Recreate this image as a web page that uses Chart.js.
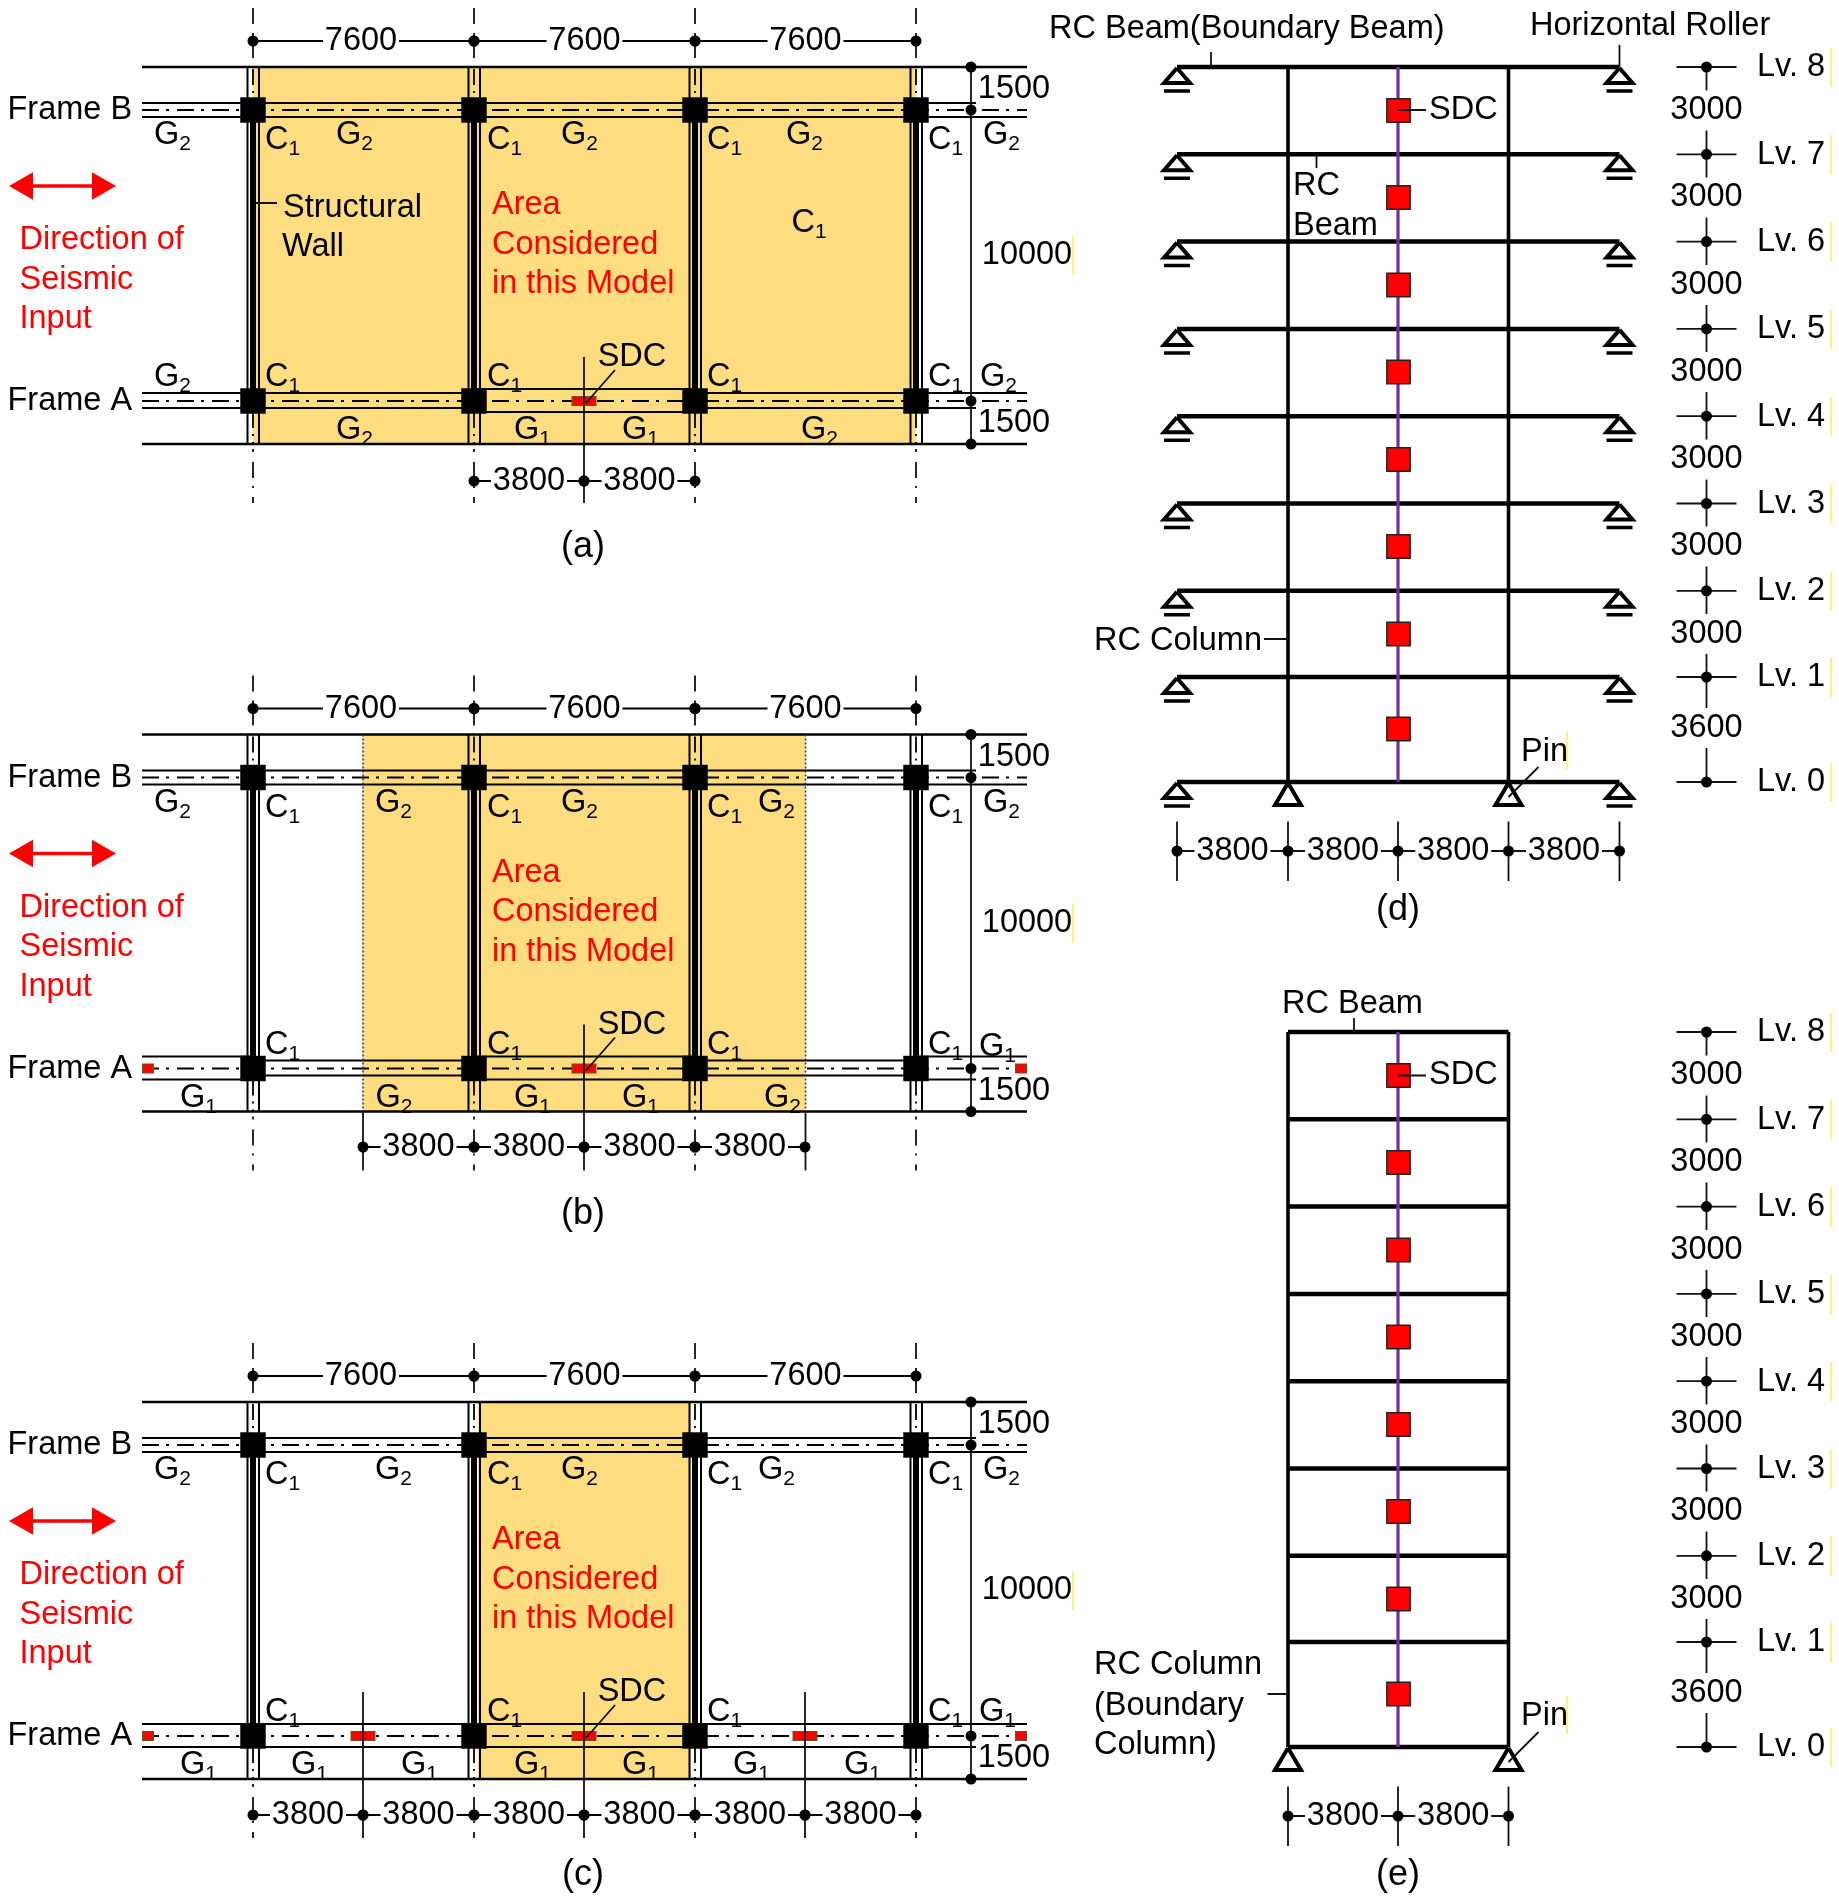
<!DOCTYPE html>
<html>
<head>
<meta charset="utf-8">
<title>Frame models</title>
<script src="https://cdn.jsdelivr.net/npm/chart.js@4/dist/chart.umd.js"></script>
<style>
  html, body { margin: 0; background: #fff; }
  canvas { display: block; }
</style>
</head>
<body>
<canvas id="drawing" width="1839" height="1902"></canvas>
<script>
// drawing data, all in page units of the one linear x/y scale
const planOffsets = [0, 667.5, 1335];
const planNames = ['(a)', '(b)', '(c)'];
const columnX = [253, 474, 695, 916];
const frameBY = [103, 110, 117];
const g2Y = [393, 408];
const g1Y = [389, 412];
const frameAY = 401;
const slabY = [67, 444];
const planX = [142, 1027];
const dimTopLabels = ['7600', '7600', '7600'];
const dimBottomX = [
  [474, 584, 695],
  [363, 474, 584, 695, 805],
  [253, 363, 474, 584, 695, 805, 916]
];
const dimBottomY = [481, 1147, 1815];
const areaX = [[253, 916], [363, 805.5], [478, 691]];
// 1 = G1 beam, 0 = G2 beam, per bay of Frame A
const frameASpanX = [142, 253, 474, 695, 916, 1027];
const frameAType = [
  [0, 0, 1, 0, 0],
  [1, 0, 1, 0, 1],
  [1, 1, 1, 1, 1]
];
const sdcWide = [[584], [584], [363, 584, 805]];
const sdcEnd = [[], [148, 1021], [148, 1021]];
const extraLines = [[584], [584], [363, 584, 805]];

const levelNames = ['Lv. 8', 'Lv. 7', 'Lv. 6', 'Lv. 5', 'Lv. 4', 'Lv. 3', 'Lv. 2', 'Lv. 1', 'Lv. 0'];
const storeyLabels = ['3000', '3000', '3000', '3000', '3000', '3000', '3000', '3600'];
const levelY = [67, 154.3, 241.6, 328.9, 416.2, 503.5, 590.8, 677, 782];
const storeyMidY = [110.5, 197.5, 285, 372, 459.5, 546.5, 634, 728];
const sdcMidY = [110.5, 197.5, 285, 372, 459.5, 546.5, 634, 729];
const elevOffsetE = 965;
const gridD = [1177, 1288, 1398, 1508.5, 1619.5];
const gridE = [1288, 1398, 1508.5];
const levelAxisX = 1706.5;

const BLACK = '#000';
const RED = '#ff0000';
const AREA = '#fedd80';
const PURPLE = '#7030a0';
const SDC_EDGE = '#7a4a20';
const TEXT_NUDGE = 2.5;

// line helpers: a "path" is a list of [x, y] pairs, gaps split the paths
function toPoints(paths) {
  const pts = [];
  paths.forEach(p => {
    p.forEach(c => pts.push({ x: c[0], y: c[1] }));
    pts.push({ x: NaN, y: NaN });
  });
  return pts;
}

function lineSet(paths, width, color, order, dash) {
  return {
    data: toPoints(paths),
    showLine: true,
    pointRadius: 0,
    borderWidth: width,
    borderColor: color,
    borderDash: dash || [],
    borderCapStyle: 'butt',
    borderJoinStyle: 'miter',
    spanGaps: false,
    tension: 0,
    order: order
  };
}

function pointSet(points, style, radius, color, order, extra) {
  return Object.assign({
    data: points.map(p => ({ x: p[0], y: p[1] })),
    showLine: false,
    pointStyle: style,
    pointRadius: radius,
    pointBackgroundColor: color,
    pointBorderWidth: 0,
    order: order
  }, extra || {});
}

const datasets = [];
const texts = [];

const thin = [];      // 2px black lines
const slabs = [];     // slab edges
const center = [];    // beam centre lines
const stubs = [];     // wall centre dashes
const dots = [];
const squares = [];
const wallCores = [];
const yellowBars = [];
const dotted = [];
const pale = [];

function note(str, x, y, color, align, size) {
  texts.push({ str, x, y, color: color || BLACK, align: align || 'left', size: size || 32.5 });
}
function subNote(base, sub, x, y) {
  texts.push({ str: base, sub, x, y, color: BLACK, align: 'left', size: 32.5 });
}

// dimension line with the number sitting in a gap
function dimension(x1, x2, y, label, shift) {
  const mid = (x1 + x2) / 2 + (shift || 0);
  thin.push([[x1, y], [mid - 38, y]], [[mid + 38, y], [x2, y]]);
  dots.push([x1, y], [x2, y]);
  note(label, mid, y - 2, BLACK, 'center');
}

planOffsets.forEach((dy, i) => {
  // highlighted tributary area
  datasets.push({
    data: [{ x: areaX[i][0], y: slabY[0] + dy }, { x: areaX[i][1], y: slabY[0] + dy }],
    showLine: true,
    pointRadius: 0,
    borderWidth: 0,
    backgroundColor: AREA,
    fill: { value: slabY[1] + dy },
    order: 60
  });
  if (i === 1) {
    areaX[i].forEach(x => dotted.push([[x, slabY[0] + dy], [x, slabY[1] + dy]]));
  }

  // slab edges and Frame B
  slabY.forEach(y => slabs.push([[planX[0], y + dy], [planX[1], y + dy]]));
  thin.push([[planX[0], frameBY[0] + dy], [976, frameBY[0] + dy]]);
  thin.push([[planX[0], frameBY[2] + dy], [planX[1], frameBY[2] + dy]]);
  center.push([[planX[0], frameBY[1] + dy], [planX[1], frameBY[1] + dy]]);
  center.push([[planX[0], frameAY + dy], [planX[1], frameAY + dy]]);

  // Frame A bays, G1 or G2
  frameAType[i].forEach((t, k) => {
    const ys = t ? g1Y : g2Y;
    const x1 = frameASpanX[k];
    const x2 = frameASpanX[k + 1];
    thin.push([[x1, ys[0] + dy], [x2, ys[0] + dy]]);
    thin.push([[x1, ys[1] + dy], [k === 4 ? 976 : x2, ys[1] + dy]]);
  });

  // walls and column grid lines
  columnX.forEach(x => {
    thin.push([[x - 5.5, slabY[0] + dy], [x - 5.5, slabY[1] + dy]]);
    thin.push([[x + 6, slabY[0] + dy], [x + 6, slabY[1] + dy]]);
    wallCores.push([[x, 110 + dy], [x, frameAY + dy]]);
    stubs.push([[x, slabY[0] + dy + 2], [x, 100 + dy]]);
    stubs.push([[x, 412 + dy], [x, slabY[1] + dy]]);
    [[8, 24], [33, 58], [449, 452], [462, 478], [486, 488], [497, 503]].forEach(s => {
      pale.push([[x, s[0] + dy], [x, s[1] + dy]]);
    });
    squares.push([x, frameBY[1] + dy], [x, frameAY + dy]);
  });

  // top dimensions
  dimTopLabels.forEach((label, k) => dimension(columnX[k], columnX[k + 1], 41 + dy, label, k === 0 ? -2.5 : 0));

  // bottom dimensions
  dimBottomX[i].forEach((x, k, arr) => {
    if (k < arr.length - 1) dimension(x, arr[k + 1], dimBottomY[i], '3800');
  });

  // vertical dimension on the right
  pale.push([[971, slabY[0] + dy], [971, slabY[1] + dy]]);
  [67, 110, 401, 444].forEach(y => dots.push([971, y + dy]));
  note('1500', 1014, 87 + dy, BLACK, 'center');
  note('10000', 1027, 253 + dy, BLACK, 'center');
  note('1500', 1014, 421 + dy, BLACK, 'center');
  yellowBars.push([[1073, 236 + dy], [1073, 275 + dy]]);

  // SDC marks
  sdcWide[i].forEach(x => {
    datasets.push(lineSet([[[x - 12.5, frameAY + dy], [x + 12.5, frameAY + dy]]], 10, SDC_EDGE, 30));
    datasets.push(lineSet([[[x - 11, frameAY + dy], [x + 11, frameAY + dy]]], 8, RED, 29));
  });
  sdcEnd[i].forEach(x => {
    datasets.push(lineSet([[[x - 6, frameAY + dy], [x + 6, frameAY + dy]]], 10, SDC_EDGE, 30));
    datasets.push(lineSet([[[x - 4.5, frameAY + dy], [x + 4.5, frameAY + dy]]], 8, RED, 29));
  });
  extraLines[i].forEach(x => {
    if (i === 1 && x !== 584) return;
    pale.push([[x, 357 + dy], [x, 503 + dy]]);
  });
  if (i === 1) {
    [363, 805.5].forEach(x => pale.push([[x, slabY[1] + dy], [x, 503 + dy]]));
  }
  pale.push([[586, 403 + dy], [615, 370 + dy]]);
  note('SDC', 632, 355 + dy, BLACK, 'center');

  // seismic arrow
  datasets.push(lineSet([[[24, 186 + dy], [102, 186 + dy]]], 3.5, RED, 25));
  datasets.push(pointSet([[25, 186 + dy]], 'triangle', 16, RED, 24, { pointRotation: -90 }));
  datasets.push(pointSet([[100, 186 + dy]], 'triangle', 16, RED, 24, { pointRotation: 90 }));

  // text
  note('Frame B', 7.5, 108 + dy);
  note('Frame A', 7.5, 399 + dy);
  ['Direction of', 'Seismic', 'Input'].forEach((s, k) => note(s, 19.5, 238 + k * 39.5 + dy, RED));
  ['Area', 'Considered', 'in this Model'].forEach((s, k) => note(s, 492, 203 + k * 39.5 + dy, RED));
  note(planNames[i], 583, 544.5 + dy + (i === 2 ? -7 : 0), BLACK, 'center', 36);

  subNote('G', '2', 154, 133 + dy);
  subNote('C', '1', 265, 138 + dy);
  subNote('C', '1', 487, 138 + dy);
  subNote('C', '1', 707, 138 + dy);
  subNote('C', '1', 928, 138 + dy);
  subNote('G', '2', 983, 133 + dy);
  subNote('C', '1', 265, 375 + dy);
  subNote('C', '1', 487, 375 + dy);
  subNote('C', '1', 707, 375 + dy);
  subNote('C', '1', 928, 375 + dy);
});

// labels that differ between the plans
[[336, 133], [561, 133], [786, 133], [154, 375], [336, 428], [801, 428]].forEach(p => subNote('G', '2', p[0], p[1]));
[[514, 428], [622, 428]].forEach(p => subNote('G', '1', p[0], p[1]));
subNote('G', '2', 980, 375);
subNote('C', '1', 791.6, 220.7);
note('Structural', 283, 205.7);
note('Wall', 282, 245);
pale.push([[255, 203], [277, 203]]);

[[375, 800.5], [561, 800.5], [758, 800.5], [375.4, 1095.5], [764, 1095.5]].forEach(p => subNote('G', '2', p[0], p[1]));
[[180, 1095.5], [514, 1095.5], [622, 1095.5], [979, 1045]].forEach(p => subNote('G', '1', p[0], p[1]));

[[375, 1468], [561, 1468], [758, 1468]].forEach(p => subNote('G', '2', p[0], p[1]));
[180, 291, 401, 514, 622, 733, 844].forEach(x => subNote('G', '1', x, 1763));
subNote('G', '1', 979, 1710);

// elevation (d)
const beamsD = [];
const beamsE = [];
const triangles = [];
const rollerBars = [];
levelY.forEach((y, i) => {
  beamsD.push([[gridD[0], y], [gridD[4], y]]);
  beamsE.push([[gridE[0], y + elevOffsetE], [gridE[2], y + elevOffsetE]]);
  [gridD[0], gridD[4]].forEach(x => {
    triangles.push([[x, y + 1], [x - 13, y + 16], [x + 13, y + 16], [x, y + 1]]);
    rollerBars.push([[x - 13, y + 24], [x + 13, y + 24]]);
  });
  [0, elevOffsetE].forEach(off => {
    pale.push([[levelAxisX - 30, y + off], [levelAxisX + 30, y + off]]);
    dots.push([levelAxisX, y + off]);
    note(levelNames[i], 1757, y + off - 2);
    yellowBars.push([[1831, y + off - 19], [1831, y + off + 20]]);
  });
});
storeyLabels.forEach((label, i) => {
  [0, elevOffsetE].forEach(off => {
    note(label, levelAxisX, storeyMidY[i] + off - 2.5, BLACK, 'center');
    pale.push([[levelAxisX, levelY[i] + off], [levelAxisX, storeyMidY[i] + off - 20]]);
    pale.push([[levelAxisX, storeyMidY[i] + off + 20], [levelAxisX, levelY[i + 1] + off]]);
  });
});

[[gridE[0], levelY[8]], [gridE[2], levelY[8]], [gridE[0], levelY[8] + elevOffsetE], [gridE[2], levelY[8] + elevOffsetE]].forEach(p => {
  triangles.push([[p[0], p[1] + 1], [p[0] - 13, p[1] + 23], [p[0] + 13, p[1] + 23], [p[0], p[1] + 1]]);
});

const columnsElev = [];
[gridE[0], gridE[2]].forEach(x => {
  columnsElev.push([[x, levelY[0]], [x, levelY[8]]]);
  columnsElev.push([[x, levelY[0] + elevOffsetE], [x, levelY[8] + elevOffsetE]]);
});
const purple = [
  [[gridE[1], levelY[0]], [gridE[1], levelY[8]]],
  [[gridE[1], levelY[0] + elevOffsetE], [gridE[1], levelY[8] + elevOffsetE]]
];
const sdcBoxes = [];
sdcMidY.forEach(y => sdcBoxes.push([gridE[1] + 0.5, y], [gridE[1] + 0.5, y + elevOffsetE]));

function elevDims(grid, y) {
  grid.forEach((x, k) => {
    pale.push([[x, y - 29.5], [x, y + 30]]);
    if (k < grid.length - 1) {
      const mid = (x + grid[k + 1]) / 2;
      pale.push([[x, y], [mid - 38, y]], [[mid + 38, y], [grid[k + 1], y]]);
      note('3800', mid, y - 2, BLACK, 'center');
    }
    dots.push([x, y]);
  });
}
elevDims(gridD, 851);
elevDims(gridE, 1816);

// leaders and labels on the elevations
pale.push([[1211, 52], [1211, 67]], [[gridD[4], 45], [gridD[4], 67]]);
pale.push([[gridE[1], 110], [1426, 110]], [[gridE[1], 1075.5], [1426, 1075.5]]);
pale.push([[1316.5, 156], [1316.5, 168]]);
pale.push([[1264, 639], [gridE[0], 639]]);
pale.push([[1538.5, 767], [1508.5, 797]]);
pale.push([[1354, 1018], [1354, 1032]]);
pale.push([[1267.5, 1694], [gridE[0], 1694]]);
pale.push([[1538.5, 1732], [1508.5, 1762]]);
yellowBars.push([[1567, 731], [1567, 769]], [[1567, 1696], [1567, 1734]]);

note('RC Beam(Boundary Beam)', 1049, 27);
note('Horizontal Roller', 1530, 24);
note('SDC', 1429, 108);
note('RC', 1293, 184);
note('Beam', 1293, 224);
note('RC Column', 1094, 639);
note('Pin', 1521, 750);
note('(d)', gridE[1], 907.5, BLACK, 'center', 36);
note('RC Beam', 1282, 1002);
note('SDC', 1429, 1073);
note('RC Column', 1094, 1663);
note('(Boundary', 1094, 1704);
note('Column)', 1094, 1743);
note('Pin', 1521, 1714);
note('(e)', gridE[1], 1872.5, BLACK, 'center', 36);

datasets.push(
  lineSet(center, 2.2, BLACK, 40, [17, 7, 3, 8]),
  lineSet(stubs, 1.8, BLACK, 41, [16, 6, 2, 6]),
  lineSet(thin, 2, BLACK, 38),
  lineSet(slabs, 2.5, BLACK, 37),
  lineSet(dotted, 1.5, '#333', 36, [2, 2]),
  lineSet(wallCores, 6, BLACK, 28),
  pointSet(squares, 'rect', 18, BLACK, 22),
  lineSet(yellowBars, 1, '#fff066', 45),
  lineSet(beamsD, 4.5, BLACK, 20),
  lineSet(beamsE, 4.5, BLACK, 20),
  lineSet(columnsElev, 3.6, BLACK, 21),
  lineSet(triangles, 4, BLACK, 19),
  lineSet(rollerBars, 3.5, BLACK, 19),
  lineSet(purple, 3.2, PURPLE, 12),
  pointSet(sdcBoxes, 'rect', 16.5, RED, 10, { pointBorderWidth: 1.5, pointBorderColor: '#222' }),
  lineSet(pale, 1.8, '#111', 8),
  pointSet(dots, 'circle', 5.5, BLACK, 5)
);

// text goes on top through the same scales as the marks
const textPlugin = {
  id: 'drawingText',
  afterDatasetsDraw(chart) {
    const { ctx, scales } = chart;
    ctx.save();
    ctx.textBaseline = 'middle';
    texts.forEach(t => {
      const px = scales.x.getPixelForValue(t.x);
      const py = scales.y.getPixelForValue(t.y) + TEXT_NUDGE;
      ctx.fillStyle = t.color;
      ctx.textAlign = t.align;
      ctx.font = t.size + 'px "Liberation Sans", Arial, sans-serif';
      ctx.fillText(t.str, px, py);
      if (t.sub) {
        const w = ctx.measureText(t.str).width;
        ctx.font = '21px "Liberation Sans", Arial, sans-serif';
        ctx.fillText(t.sub, px + w, py + 9);
      }
    });
    ctx.restore();
  }
};

new Chart(document.getElementById('drawing').getContext('2d'), {
  type: 'scatter',
  data: { datasets },
  plugins: [textPlugin],
  options: {
    responsive: false,
    animation: false,
    devicePixelRatio: 1,
    layout: { padding: 0, autoPadding: false },
    plugins: { legend: { display: false }, tooltip: { enabled: false }, title: { display: false } },
    scales: {
      x: { type: 'linear', min: 0, max: 1839, display: false },
      y: { type: 'linear', min: 0, max: 1902, reverse: true, display: false }
    }
  }
});
</script>
</body>
</html>
